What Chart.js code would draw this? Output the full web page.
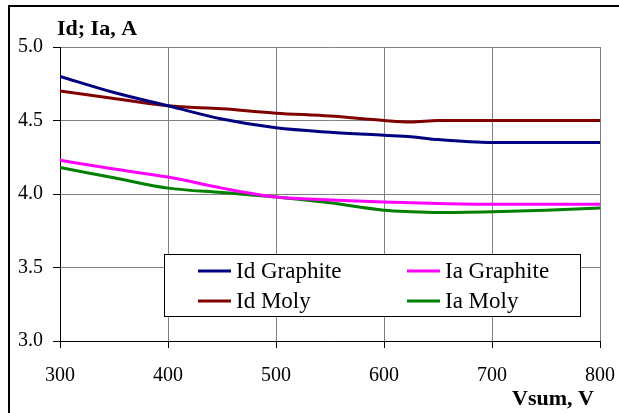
<!DOCTYPE html>
<html>
<head>
<meta charset="utf-8">
<script src="https://cdn.jsdelivr.net/npm/chart.js@4/dist/chart.umd.min.js"></script>
<style>
  html, body { margin:0; padding:0; background:#fff; }
  canvas { display:block; }
</style>
</head>
<body>
<canvas id="ivChart" width="619" height="413"></canvas>
<script>
// === data ===
const vsum = [300, 350, 400, 450, 500, 550, 600, 625, 650, 700, 750, 800];
const idGraphite = [4.80, 4.69, 4.60, 4.51, 4.45, 4.42, 4.40, 4.39, 4.37, 4.35, 4.35, 4.35];
const idMoly     = [4.70, 4.65, 4.60, 4.58, 4.55, 4.53, 4.50, 4.49, 4.50, 4.50, 4.50, 4.50];
const iaGraphite = [4.23, 4.17, 4.115, 4.04, 3.98, 3.96, 3.945, 3.94, 3.935, 3.93, 3.93, 3.93];
const iaMoly     = [4.18, 4.11, 4.04, 4.01, 3.98, 3.94, 3.89, 3.88, 3.875, 3.88, 3.89, 3.905];
const yTicks = [3.0, 3.5, 4.0, 4.5, 5.0];
const xTicks = [300, 400, 500, 600, 700, 800];

const series = [
  {label:'Id Graphite', data:idGraphite, color:'#000080'},
  {label:'Id Moly',     data:idMoly,     color:'#800000'},
  {label:'Ia Graphite', data:iaGraphite, color:'#ff00ff'},
  {label:'Ia Moly',     data:iaMoly,     color:'#008000'}
];

const SERIF = '"Liberation Serif", "Times New Roman", serif';

// frame, titles and the in-plot legend
const decorPlugin = {
  id: 'decor',
  afterDraw(chart) {
    const c = chart.ctx;
    c.save();
    // outer frame (left + top only visible)
    c.strokeStyle = '#000';
    c.lineWidth = 2;
    c.beginPath();
    c.moveTo(9, 413); c.lineTo(9, 6); c.lineTo(619, 6);
    c.stroke();

    c.fillStyle = '#000';
    c.font = 'bold 22px ' + SERIF;
    c.textBaseline = 'alphabetic';
    c.textAlign = 'left';
    c.fillText('Id; Ia, A', 57, 35);
    c.font = 'bold 22px ' + SERIF;
    c.textAlign = 'right';
    c.fillText('Vsum, V', 594, 405);

    // legend
    c.fillStyle = '#fff';
    c.fillRect(165, 254.5, 416, 62);
    c.strokeStyle = '#000';
    c.lineWidth = 1;
    c.strokeRect(164.5, 254.5, 416, 62);
    const cols = [198, 407];
    const rows = [271, 301];
    c.font = '23px ' + SERIF;
    c.textAlign = 'left';
    c.textBaseline = 'middle';
    chart.data.datasets.forEach((ds, i) => {
      const x = cols[Math.floor(i / 2)];
      const y = rows[i % 2];
      c.strokeStyle = ds.borderColor;
      c.lineWidth = 3;
      c.beginPath();
      c.moveTo(x, y); c.lineTo(x + 33, y);
      c.stroke();
      c.fillStyle = '#000';
      c.fillText(ds.label, x + 38, y + 1);
    });
    c.restore();
  }
};

const chart = new Chart(document.getElementById('ivChart').getContext('2d'), {
  type: 'line',
  data: {
    datasets: series.map(s => ({
      label: s.label,
      data: vsum.map((v, i) => ({x: v, y: s.data[i]})),
      borderColor: s.color,
      backgroundColor: s.color,
      borderWidth: 3,
      pointRadius: 0,
      fill: false,
      tension: 0.3,
      cubicInterpolationMode: 'monotone'
    }))
  },
  options: {
    responsive: false,
    animation: false,
    layout: { padding: { left: 0, right: 19, top: 47, bottom: 0 } },
    plugins: { legend: { display: false }, tooltip: { enabled: false } },
    scales: {
      x: {
        type: 'linear',
        min: 300, max: 800,
        afterBuildTicks: s => { s.ticks = xTicks.map(v => ({value: v})); },
        afterFit: s => { s.height = 72; s.paddingLeft = 0; s.paddingRight = 0; },
        grid: { color: '#808080', lineWidth: 1, drawTicks: true, tickLength: 7, tickColor: '#000' },
        border: { color: '#000', width: 1 },
        ticks: { color: '#000', font: { family: SERIF, size: 20 }, padding: 16, maxRotation: 0 }
      },
      y: {
        min: 3.0, max: 5.0,
        afterBuildTicks: s => { s.ticks = yTicks.map(v => ({value: v})); },
        afterFit: s => { s.width = 60; s.paddingTop = 0; s.paddingBottom = 0; },
        grid: { color: '#808080', lineWidth: 1, drawTicks: true, tickLength: 7, tickColor: '#000' },
        border: { color: '#000', width: 1 },
        ticks: { color: '#000', font: { family: SERIF, size: 20 }, padding: 10,
                 callback: v => v.toFixed(1) }
      }
    }
  },
  plugins: [decorPlugin]
});
</script>
</body>
</html>
